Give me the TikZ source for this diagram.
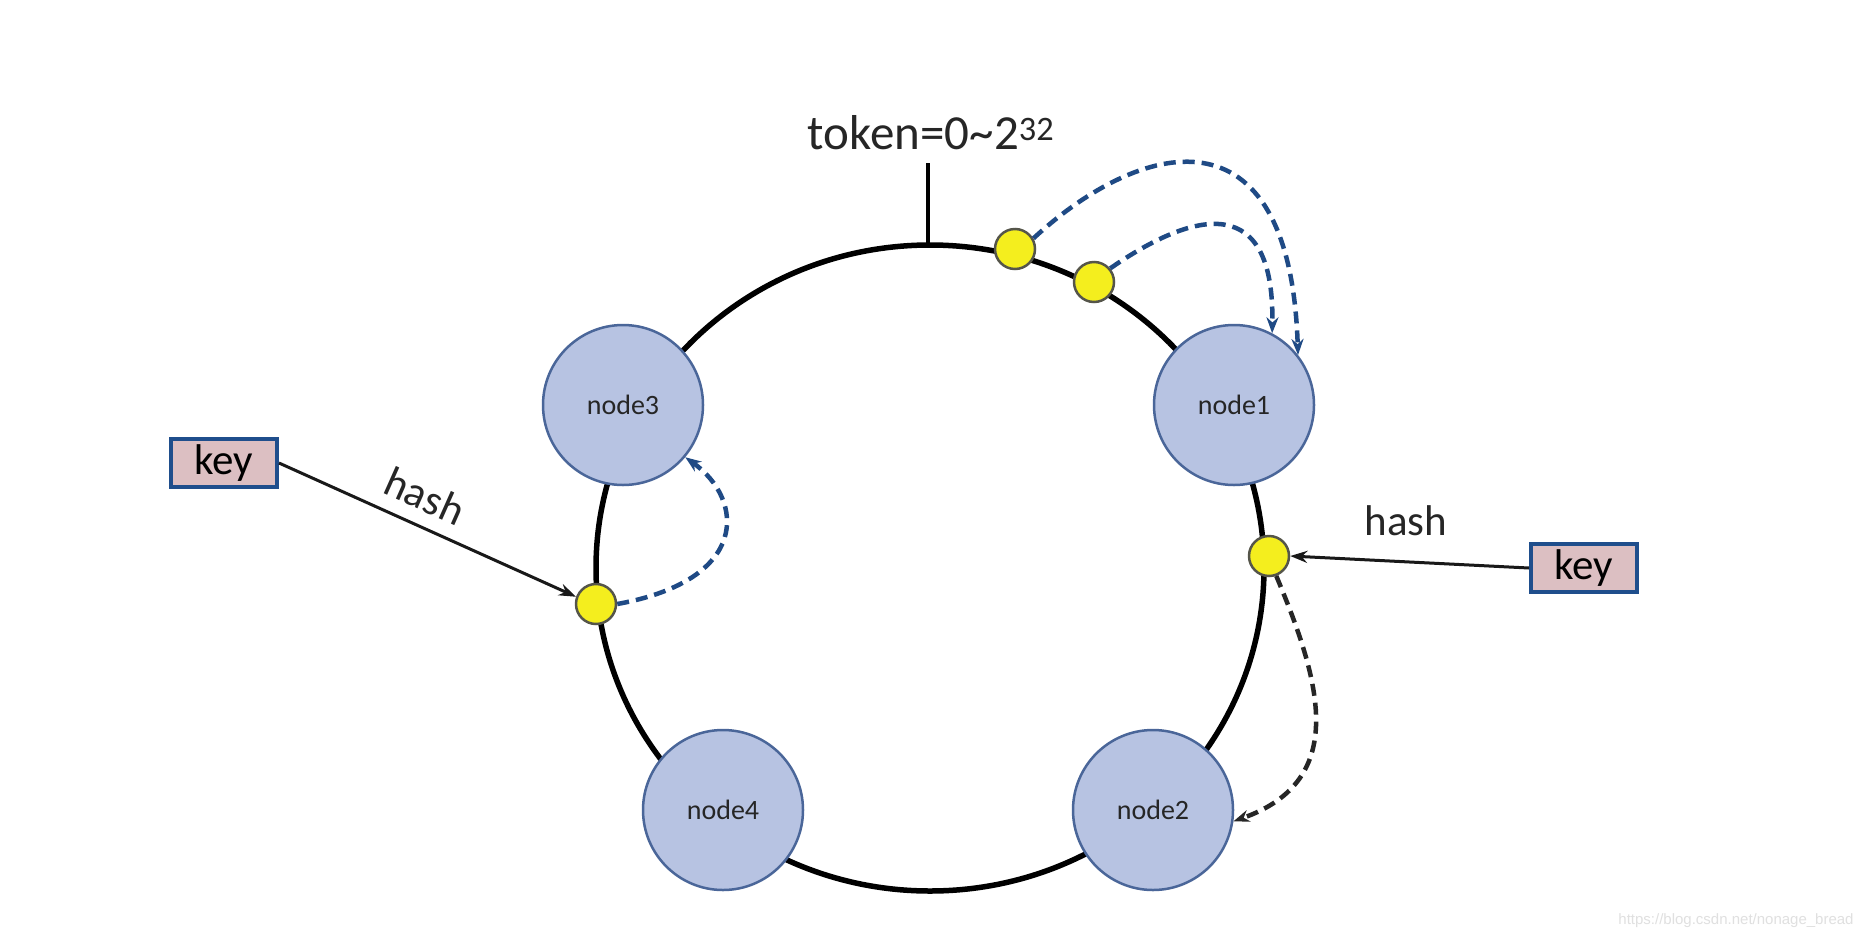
\documentclass[tikz,border=0pt]{standalone}
\usepackage{fontspec}
\setmainfont{Carlito}
\newfontfamily\wmfont{Liberation Sans}
\usetikzlibrary{arrows.meta}
\definecolor{nodefill}{HTML}{B7C3E2}
\definecolor{nodeline}{HTML}{4A6699}
\definecolor{keyfill}{HTML}{DCBFC2}
\definecolor{keyline}{HTML}{1F4E8C}
\definecolor{dashblue}{HTML}{1F4A85}
\definecolor{dotfill}{HTML}{F4EE1E}
\definecolor{dotline}{HTML}{55554A}
\begin{document}
\begin{tikzpicture}[x=1pt,y=-1pt,
  ringnode/.style={circle, draw=nodeline, line width=2.5pt, fill=nodefill, minimum size=160pt, inner sep=0pt, font=\fontsize{28}{30}\selectfont, text=black!85},
  hashdot/.style={circle, draw=dotline, line width=2.5pt, fill=dotfill, minimum size=40pt, inner sep=0pt},
  keybox/.style={rectangle, draw=keyline, line width=4pt, fill=keyfill, minimum width=106pt, minimum height=48pt, inner sep=0pt, font=\fontsize{43}{46}\selectfont},
  lbl/.style={font=\fontsize{43}{46}\selectfont, text=black!85},
  bluedash/.style={dashblue, line width=4.5pt, dash pattern=on 12pt off 7pt, -{Stealth[length=16pt,width=12pt]}},
  blackdash/.style={black!85, line width=4.5pt, dash pattern=on 12pt off 7pt, -{Stealth[length=16pt,width=12pt]}},
  hasharrow/.style={black!90, line width=3pt, -{Stealth[length=17pt,width=12pt]}}
]
\useasboundingbox (0,0) rectangle (1868,940);
\fill[white] (0,0) rectangle (1868,940);

% ring
\draw[line width=5.5pt] (930,568) ellipse [x radius=334pt, y radius=323pt];
\coordinate (ringtop) at (928,245);
\draw[line width=4.5pt] (ringtop) -- ++(0,-82);
\node[lbl, font=\fontsize{49}{52}\selectfont] (token) at (931,133) {token=0\char`~2\textsuperscript{32}};

% nodes
\node[ringnode] (n3) at (623,405) {node3};
\node[ringnode] (n1) at (1234,405) {node1};
\node[ringnode] (n4) at (723,810) {node4};
\node[ringnode] (n2) at (1153,810) {node2};

% dots
\node[hashdot] (dA) at (1015,249) {};
\node[hashdot] (dB) at (1094,282) {};
\node[hashdot] (dL) at (596,604) {};
\node[hashdot] (dR) at (1269,556) {};

% keys
\node[keybox] (kL) at (224,463) {key};
\node[keybox] (kR) at (1584,568) {key};

% hash arrows
\draw[hasharrow] (kL.east) -- (dL.160);
\draw[hasharrow] (kR.west) -- (dR.east);
\node[lbl, rotate=-24] (hL) at (425,496) {hash};
\node[lbl] (hR) at (1406,521) {hash};

% dashed curves
\draw[bluedash] (dA.30) .. controls (1140,140) and (1290,100) .. (n1.38);
\draw[bluedash] (dB.40) .. controls (1180,220) and (1275,180) .. (n1.62);
\draw[bluedash] (dL.east) .. controls (750,580) and (745,500) .. (n3.-40);
\draw[blackdash] (dR.-70) .. controls (1320,680) and (1350,780) .. (n2.-8);

% watermark
\node[text=black!12, font=\wmfont\fontsize{15}{18}\selectfont] (wm) at (1736,921) {https://blog.csdn.net/nonage\_bread};
\end{tikzpicture}
\end{document}
